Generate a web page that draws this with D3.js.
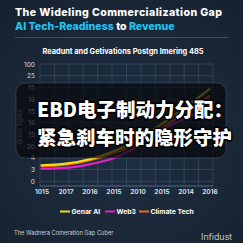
<!DOCTYPE html>
<html><head><meta charset="utf-8">
<script src="https://cdn.jsdelivr.net/npm/d3@7"></script>
<style>
html,body{margin:0;padding:0;background:#1a2736;}
svg{display:block;}
</style></head>
<body>
<script>
const xLabels = ["1015","2017","2016","2015","2010","2015","2014","2016"];
const yLabels = ["0","3","4","20","15","16","15","16","15","25","100"];
const seriesNames = ["Genar AI","Web3","Climate Tech"];
const seriesColors = ["#f2d91c","#e022c8","#ee6a1a"];
const genarAI = [1.37,1.5,1.88,2.56,3.5,4.87,6.32,7.86];
const web3 = [1.07,1.15,1.45,1.97,2.99,4.36,5.38,6.24];
const climateTech = [1.28,1.41,1.79,2.39,3.25,4.53,5.9,7.26];
const seriesValues = [genarAI, web3, climateTech];

const W = 243, H = 243;
const svg = d3.select("body").append("svg").attr("width", W).attr("height", H);
const defs = svg.append("defs");
const g0 = defs.append("radialGradient").attr("id","bg").attr("cx","50%").attr("cy","55%").attr("r","70%");
g0.append("stop").attr("offset","0%").attr("stop-color","#1f3044");
g0.append("stop").attr("offset","100%").attr("stop-color","#172230");
svg.append("rect").attr("width",W).attr("height",H).attr("fill","url(#bg)");

// Title
svg.append("text").attr("x",15).attr("y",16).attr("fill","#ffffff")
  .attr("font-family","Inter, Roboto, sans-serif").attr("font-weight",800).attr("font-size",10.6)
  .attr("textLength",207).text("The Wideling Commercialization Gap");
const t2 = svg.append("text").attr("x",15).attr("y",29.5)
  .attr("font-family","Inter, Roboto, sans-serif").attr("font-weight",800).attr("font-size",10.6);
t2.append("tspan").attr("fill","#22c4f0").text("AI Tech-Readiness");
t2.append("tspan").attr("fill","#ffffff").text(" to ");
t2.append("tspan").attr("fill","#22c4f0").text("Revenue");
svg.append("line").attr("x1",15).attr("x2",228).attr("y1",37.5).attr("y2",37.5)
  .attr("stroke","#3e4e60").attr("stroke-width",1);

// Subtitle
svg.append("text").attr("x",123).attr("y",54).attr("text-anchor","middle").attr("fill","#ffffff")
  .attr("font-family","Inter, Roboto, sans-serif").attr("font-weight",700).attr("font-size",7.4)
  .text("Readunt and Getivations Postgn Imering 485");

// Scales
const x = d3.scaleLinear().domain([0, xLabels.length-1]).range([41.5, 209.5]);
const y = d3.scaleLinear().domain([-0.4, yLabels.length-1]).range([186, 64]);
const xGrid = d3.scaleLinear().domain([0,12]).range([40, 213]);

const plot = svg.append("g");
plot.selectAll("line.vg").data(d3.range(13)).join("line")
  .attr("x1",d=>xGrid(d)).attr("x2",d=>xGrid(d)).attr("y1",64).attr("y2",186)
  .attr("stroke","#4a5f78").attr("stroke-opacity",0.55).attr("stroke-width",0.8);
plot.selectAll("line.hg").data(d3.range(yLabels.length)).join("line")
  .attr("x1",40).attr("x2",213).attr("y1",d=>y(d)).attr("y2",d=>y(d))
  .attr("stroke","#4a5f78").attr("stroke-opacity",0.6).attr("stroke-width",0.8);
plot.append("line").attr("x1",40).attr("x2",213).attr("y1",186).attr("y2",186)
  .attr("stroke","#5a6f88").attr("stroke-width",0.9);

// y axis
const yAxis = d3.axisLeft(y).tickValues(d3.range(yLabels.length)).tickFormat(i=>yLabels[i]).tickSize(0).tickPadding(0);
const ya = svg.append("g").attr("transform","translate(35,0)").call(yAxis);
ya.select(".domain").remove();
ya.selectAll("text").attr("fill","#d4dbe3").attr("font-family","Inter, Roboto, sans-serif").attr("font-size",6.6);

// x axis
const xAxis = d3.axisBottom(x).tickValues(d3.range(xLabels.length)).tickFormat(i=>xLabels[i]).tickSize(0).tickPadding(0);
const xa = svg.append("g").attr("transform","translate(0,189)").call(xAxis);
xa.select(".domain").remove();
xa.selectAll("text").attr("fill","#dfe5ec").attr("font-family","Inter, Roboto, sans-serif").attr("font-weight",600).attr("font-size",6.6);

// y title
svg.append("text").attr("transform","translate(22,127) rotate(-90)").attr("text-anchor","middle")
  .attr("fill","#9aa7b5").attr("font-family","Inter, Roboto, sans-serif").attr("font-size",6.5)
  .text("Grenl Sgles");

// lines
const line = d3.line().x((d,i)=>x(i)).y(d=>y(d)).curve(d3.curveMonotoneX);
const order = [2,0,1];
order.forEach(k=>{
  svg.append("path").datum(seriesValues[k]).attr("d",line).attr("fill","none")
    .attr("stroke",seriesColors[k]).attr("stroke-width",2.2).attr("stroke-linecap","round");
});

// overlay
svg.append("rect").attr("x",16).attr("y",83).attr("width",210).attr("height",75).attr("rx",9)
  .attr("fill","#07090c").attr("fill-opacity",0.72).attr("stroke","#5a6470").attr("stroke-opacity",0.5).attr("stroke-width",0.8);
const cn = svg.append("g").attr("font-family","'Noto Sans CJK SC', sans-serif").attr("font-weight",900)
  .attr("font-size",19.5).attr("fill","#ffffff").attr("stroke","#000").attr("stroke-width",3)
  .attr("paint-order","stroke").attr("stroke-linejoin","round");
cn.append("text").attr("x",37).attr("y",117).text("EBD电子制动力分配：");
cn.append("text").attr("x",37).attr("y",145).text("紧急刹车时的隐形守护");

// legend
const legendX = [60, 105, 139];
const lg = svg.append("g").attr("font-family","Inter, Roboto, sans-serif").attr("font-weight",700).attr("font-size",6.8);
seriesNames.forEach((n,k)=>{
  lg.append("line").attr("x1",legendX[k]).attr("x2",legendX[k]+10).attr("y1",211.5).attr("y2",211.5)
    .attr("stroke",seriesColors[k]).attr("stroke-width",2);
  lg.append("text").attr("x",legendX[k]+11.5).attr("y",214).attr("fill","#ffffff").text(n);
});

// footer
svg.append("text").attr("x",14).attr("y",235).attr("fill","#c8d0d8")
  .attr("font-family","Inter, Roboto, sans-serif").attr("font-size",5.7).text("The Wadnera Comeration Gap Cuber");
svg.append("text").attr("x",232).attr("y",240).attr("text-anchor","end").attr("fill","#e4e8ec")
  .attr("font-family","Inter, Roboto, sans-serif").attr("font-weight",300).attr("font-size",9).text("Infidust");
</script>
</body></html>
